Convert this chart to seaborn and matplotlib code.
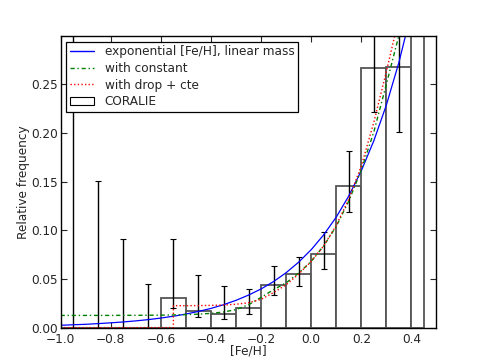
import numpy as np
import pandas as pd
import seaborn as sns
sns.set_style("ticks", {"xtick.direction": "in", "ytick.direction": "in"})
import matplotlib.pyplot as plt
from matplotlib.patches import Patch
from matplotlib.lines import Line2D

plt.rcParams["font.family"] = ["DejaVu Sans"]

# histogram of the CORALIE sample (relative frequency of planet hosts per [Fe/H] bin)
bin_edges = [-1.0, -0.9, -0.8, -0.7, -0.6, -0.5, -0.4, -0.3, -0.2, -0.1,
             0.0, 0.1, 0.2, 0.3, 0.4, 0.45]
freq = [0.0, 0.0, 0.0, 0.0, 0.030, 0.017, 0.014, 0.0206, 0.0439, 0.0548,
        0.0754, 0.145, 0.267, 0.268, 1.0]
err_low = [0.0, 0.0, 0.0, 0.0, 0.020, 0.0113, 0.0093, 0.0141, 0.0336, 0.0432,
           0.0604, 0.1186, 0.2215, 0.2006, 0.5]
err_high = [0.50, 0.151, 0.091, 0.045, 0.0905, 0.0535, 0.0429, 0.0398, 0.063, 0.073,
            0.0984, 0.181, 0.33, 0.34, 1.0]

# model curves
x_exp = [-1.0, -0.95, -0.9, -0.85, -0.8, -0.75, -0.7, -0.65, -0.6, -0.55, -0.5,
         -0.45, -0.4, -0.35, -0.3, -0.25, -0.2, -0.15, -0.1, -0.05, 0.0, 0.05,
         0.1, 0.15, 0.2, 0.25, 0.3, 0.35, 0.4]
y_exp = [0.0024, 0.0029, 0.0034, 0.0041, 0.0049, 0.0058, 0.0069, 0.0082, 0.0098,
         0.0117, 0.0139, 0.0166, 0.0197, 0.0235, 0.028, 0.0334, 0.0397, 0.0473,
         0.0564, 0.0672, 0.080, 0.0953, 0.1135, 0.1352, 0.1611, 0.1919, 0.2286,
         0.2723, 0.3244]
y_const = [0.0125, 0.0125, 0.0125, 0.0125, 0.0125, 0.0126, 0.0126, 0.0127, 0.0128,
           0.013, 0.0133, 0.0138, 0.0146, 0.016, 0.0185, 0.0235, 0.031, 0.039,
           0.046, 0.056, 0.068, 0.084, 0.104, 0.130, 0.162, 0.201, 0.250, 0.300,
           0.370]
x_drop = [-1.0, -0.55, -0.55, -0.5, -0.45, -0.4, -0.35, -0.3, -0.25, -0.2, -0.15,
          -0.1, -0.05, 0.0, 0.05, 0.1, 0.15, 0.2, 0.25, 0.3, 0.35]
y_drop = [0.0, 0.0, 0.0225, 0.0225, 0.0226, 0.0228, 0.0232, 0.024, 0.0255, 0.029,
          0.036, 0.044, 0.055, 0.068, 0.084, 0.105, 0.132, 0.166, 0.211, 0.263,
          0.318]

FS = 8.7


def main():
    fig, ax = plt.subplots(figsize=(4.85, 3.64), dpi=100)
    fig.subplots_adjust(left=0.125, right=0.9, bottom=0.1, top=0.9)

    edges = np.array(bin_edges)
    centers = (edges[:-1] + edges[1:]) / 2
    f = np.array(freq)
    hist = pd.DataFrame({"feh": centers, "freq": f})

    sns.histplot(data=hist, x="feh", weights="freq", bins=bin_edges, ax=ax,
                 color="white", edgecolor="#555555", linewidth=1.3, alpha=1)
    ax.errorbar(centers, f, yerr=[f - np.array(err_low), np.array(err_high) - f],
                fmt="none", ecolor="black", elinewidth=1.0, capsize=2.5, capthick=0.8)

    sns.lineplot(x=x_exp, y=y_exp, ax=ax, color="blue", linewidth=0.9,
                 estimator=None, sort=False)
    sns.lineplot(x=x_exp, y=y_const, ax=ax, color="green", linewidth=1.0,
                 dashes=False, estimator=None, sort=False).lines[-1].set_dashes([3, 2, 1, 2])
    sns.lineplot(x=x_drop, y=y_drop, ax=ax, color="red", linewidth=1.0,
                 estimator=None, sort=False).lines[-1].set_dashes([1, 1.6])

    ax.set_xlim(-1.0, 0.5)
    ax.set_ylim(0, 0.299)
    ax.set_xticks(np.arange(-1.0, 0.41, 0.2))
    ax.set_xticklabels(["\u22121.0", "\u22120.8", "\u22120.6", "\u22120.4",
                        "\u22120.2", "0.0", "0.2", "0.4"])
    ax.set_yticks(np.arange(0, 0.26, 0.05))
    ax.set_yticklabels(["0.00", "0.05", "0.10", "0.15", "0.20", "0.25"])
    ax.tick_params(top=True, right=True, labelsize=FS, length=4, width=0.8)
    ax.tick_params(axis="x", pad=4)
    ax.tick_params(axis="y", pad=2)
    for s in ax.spines.values():
        s.set_linewidth(1.0)
        s.set_color("black")
    ax.set_xlabel("[Fe/H]", fontsize=FS, labelpad=-1)
    ax.set_ylabel("Relative frequency", fontsize=FS, labelpad=1)

    handles = [
        Line2D([], [], color="blue", lw=1.0),
        Line2D([], [], color="green", lw=1.0, dashes=[3, 2, 1, 2]),
        Line2D([], [], color="red", lw=1.0, dashes=[1, 1.6]),
        Patch(facecolor="white", edgecolor="black", lw=0.8),
    ]
    labels = ["exponential [Fe/H], linear mass", "with constant",
              "with drop + cte", "CORALIE"]
    leg = ax.legend(handles, labels, loc="upper left", fontsize=FS, fancybox=False,
                    framealpha=1, edgecolor="black", handlelength=2.0,
                    handletextpad=0.9, labelspacing=0.3, borderpad=0.3,
                    borderaxespad=0.45)
    leg.get_frame().set_linewidth(0.9)

    fig.savefig("out.png", dpi=100)


if __name__ == "__main__":
    main()
